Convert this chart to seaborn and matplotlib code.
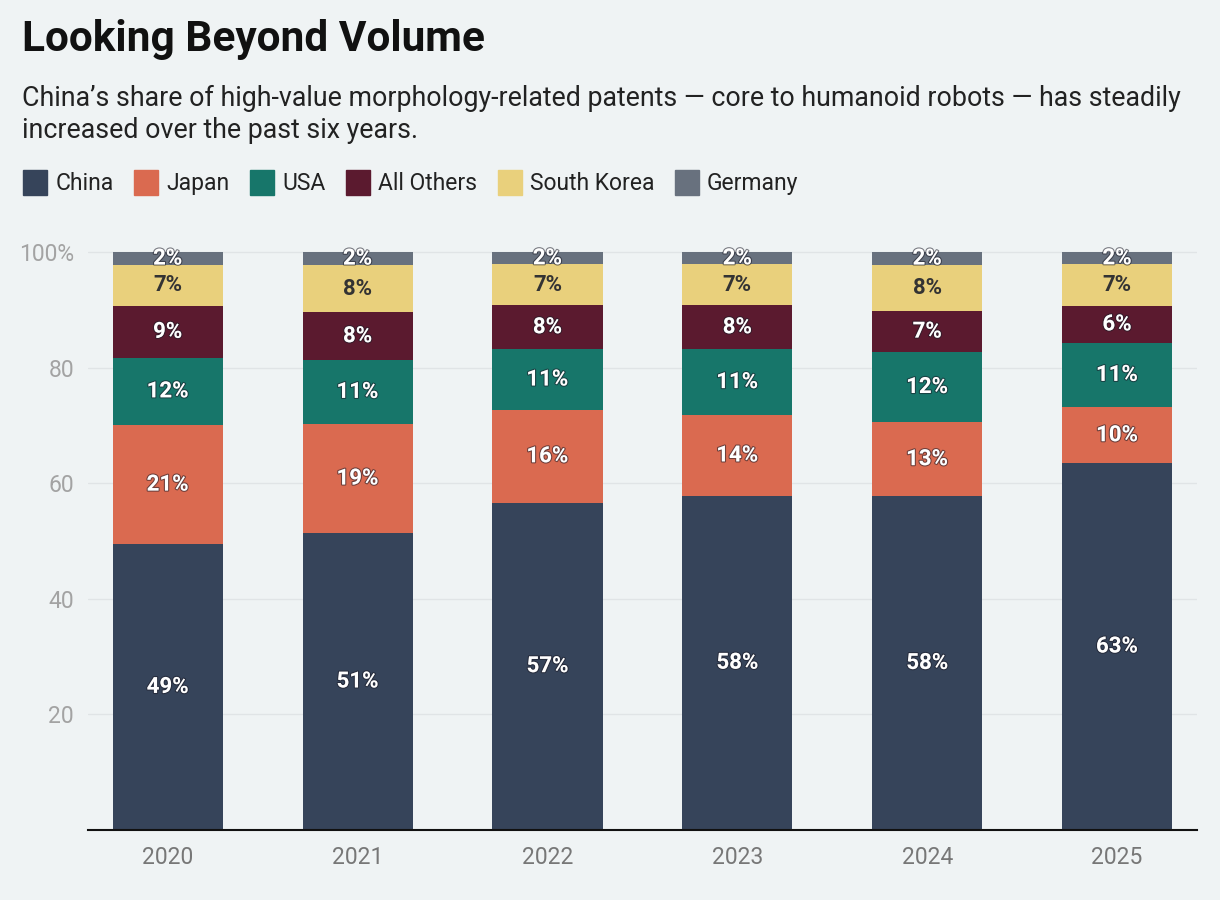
import matplotlib.pyplot as plt
import matplotlib.patheffects as pe
import seaborn as sns
import pandas as pd
import numpy as np

years = ["2020", "2021", "2022", "2023", "2024", "2025"]
series = ["China", "Japan", "USA", "All Others", "South Korea", "Germany"]
china = [49.4, 51.3, 56.6, 57.8, 57.7, 63.4]
japan = [20.7, 19.0, 16.1, 14.0, 12.9, 9.8]
usa = [11.6, 11.0, 10.5, 11.4, 12.1, 11.1]
others = [9.0, 8.3, 7.6, 7.6, 7.1, 6.4]
korea = [7.1, 8.2, 7.1, 7.1, 8.0, 7.2]
germany = [2.2, 2.2, 2.1, 2.1, 2.2, 2.1]
labels = {
    "China": ["49%", "51%", "57%", "58%", "58%", "63%"],
    "Japan": ["21%", "19%", "16%", "14%", "13%", "10%"],
    "USA": ["12%", "11%", "11%", "11%", "12%", "11%"],
    "All Others": ["9%", "8%", "8%", "8%", "7%", "6%"],
    "South Korea": ["7%", "8%", "7%", "7%", "8%", "7%"],
    "Germany": ["2%", "2%", "2%", "2%", "2%", "2%"],
}
colors = ["#36445a", "#da6a50", "#17766a", "#5b1a2f", "#e9d07c", "#68717e"]

df = pd.DataFrame({"year": years, "China": china, "Japan": japan, "USA": usa,
                   "All Others": others, "South Korea": korea, "Germany": germany})

bg = "#eff3f4"
sns.set_theme(style="white", rc={"axes.facecolor": bg, "figure.facecolor": bg})
plt.rcParams["font.family"] = ["Roboto", "DejaVu Sans"]

fig = plt.figure(figsize=(12.2, 9), dpi=100)
ax = fig.add_axes([0.0721, 0.0783, 0.9089, 0.6447])

# cumulative totals for stacking
stack = df[series].cumsum(axis=1)
starts = stack - df[series]

# draw tallest layer first so the lower layers sit on top of it
for i in range(len(series) - 1, -1, -1):
    tmp = pd.DataFrame({"year": years, "top": stack[series[i]]})
    sns.barplot(data=tmp, x="year", y="top", color=colors[i], width=0.58,
                saturation=1, linewidth=0, ax=ax, zorder=3)

shadow = [pe.withStroke(linewidth=1.6, foreground=(0.1, 0.1, 0.15, 0.55))]
for name in series:
    for j in range(len(years)):
        y = starts[name][j] + df[name][j] / 2
        if name == "South Korea":
            ax.text(j, y, labels[name][j], ha="center", va="center", fontsize=16,
                    fontweight="bold", color="#333333", zorder=5)
        else:
            ax.text(j, y, labels[name][j], ha="center", va="center", fontsize=16,
                    fontweight="bold", color="white", zorder=5, path_effects=shadow)

ax.set_xlim(-0.42, 5.42)
ax.set_ylim(0, 100.5)
ax.set_yticks([20, 40, 60, 80, 100])
ax.set_yticklabels(["20", "40", "60", "80", "100%"])
ax.yaxis.grid(True, color="#e0e4e6", linewidth=1, zorder=0)
ax.set_axisbelow(True)
ax.tick_params(axis="y", colors="#a3a3a3", labelsize=16.5, length=0, pad=10)
ax.tick_params(axis="x", colors="#777777", labelsize=16.5, length=0, pad=12)
ax.set_xlabel("")
ax.set_ylabel("")
for s in ["top", "right", "left"]:
    ax.spines[s].set_visible(False)
ax.spines["bottom"].set_color("#111111")
ax.spines["bottom"].set_linewidth(1.5)
ax.spines["bottom"].set_zorder(6)

fig.text(0.018, 0.956, "Looking Beyond Volume", fontsize=30.5, fontweight="bold",
         color="#111111", va="center")
fig.text(0.018, 0.873, "China\u2019s share of high-value morphology-related patents \u2014 core to humanoid robots \u2014 has steadily\nincreased over the past six years.",
         fontsize=19.3, color="#222222", va="center", linespacing=1.25)

handles = [plt.Rectangle((0, 0), 1, 1, color=c) for c in colors]
fig.legend(handles, series, loc="center left", bbox_to_anchor=(0.002, 0.797),
           ncol=6, frameon=False, fontsize=16.5, handlelength=1.05, handleheight=1.25,
           handletextpad=0.35, columnspacing=0.9, labelcolor="#222222")

fig.savefig("out.png", dpi=100, facecolor=bg)
